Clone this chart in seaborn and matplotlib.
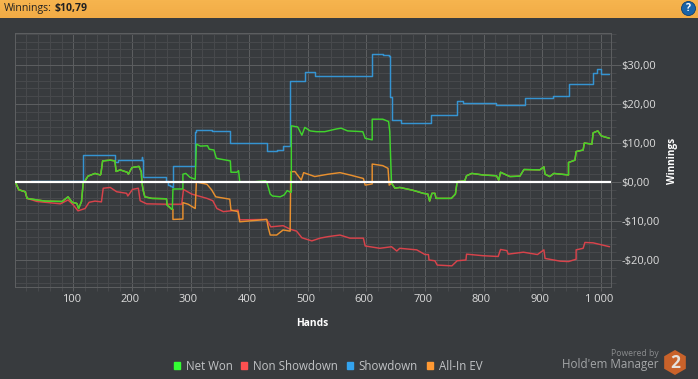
import numpy as np
import pandas as pd
import matplotlib.pyplot as plt
import seaborn as sns
from matplotlib.patches import Circle, Patch, RegularPolygon
from matplotlib.ticker import FuncFormatter, MultipleLocator
from matplotlib.transforms import ScaledTranslation

# Values: (hand, dollars)
net_hands = [1, 7, 18, 21, 38, 52, 81, 91, 98, 106, 109, 114, 117, 120, 125, 137, 146, 147, 150, 163, 171, 173, 180,
             192, 194, 200, 212, 216, 217, 219, 222, 234, 259, 260, 268, 269, 270, 287, 287, 292, 299, 308, 310, 317,
             329, 332, 340, 344, 350, 361, 368, 369, 379, 382, 384, 405, 428, 430, 433, 436, 440, 453, 460, 465, 470,
             472, 472, 483, 490, 495, 504, 515, 529, 549, 557, 568, 594, 598, 610, 610, 628, 638, 640, 641, 643, 649,
             657, 679, 697, 705, 708, 712, 717, 719, 745, 752, 755, 768, 771, 780, 799, 822, 826, 829, 839, 845, 862,
             869, 896, 903, 905, 913, 920, 945, 945, 956, 958, 970, 972, 985, 987, 995, 1001, 1015]
net_vals = [0, -2, -2.5, -4.2, -4.6, -4.9, -5, -3.8, -5.2, -5.5, -6.8, -5, 0, 0.3, 1.5, 2.2, 1.8, 2, 5.4, 5.6, 5.4, 2.7,
            3.1, 2.5, 2, 3.7, 4, 2.6, 0, -2, -3.8, -4.2, -4.3, -5.9, -7, -7, -1.8, -1.8, 2, 2.2, 1.2, 0.7, 9.7, 9.2,
            9.3, 8.4, 8.2, 6.1, 5.9, 5.6, 5.4, 2.5, 2.5, 2.9, 0, 0, 0.3, 0, -1.5, -3.1, -3.6, -3.8, -3.3, -2.2, -2.6,
            -2.6, 14.4, 14.1, 12, 14, 13.1, 12.9, 12.9, 13.6, 13.8, 13.1, 12.9, 11.2, 10.8, 16.1, 16.1, 15.5, 12.9, 8.2,
            -0.3, -1.6, -1.4, -2.1, -2.9, -3.1, -4.9, -2.9, -2.9, -4.2, -4.2, -3.1, 0.1, 0.3, 1.6, 2.2, 1.8, 1.6, 0.5,
            2.5, 1.8, 1.4, 1.5, 3.2, 3.1, 3.9, 2, 1.4, 2.2, 1.8, 5, 5.6, 7.8, 8.2, 10, 9.7, 12.6, 13.1, 11.8, 11.2]

nonsd_hands = [1, 7, 18, 21, 38, 52, 78, 91, 100, 108, 120, 127, 137, 148, 151, 163, 174, 191, 193, 201, 211, 214, 225,
               259, 285, 288, 302, 328, 338, 345, 356, 381, 384, 430, 437, 458, 470, 481, 490, 507, 521, 535, 555, 572,
               595, 598, 623, 643, 652, 657, 686, 700, 706, 707, 717, 721, 746, 755, 770, 771, 799, 825, 829, 840, 842,
               868, 892, 903, 905, 931, 945, 958, 958, 970, 973, 987, 1015]
nonsd_vals = [0, -2, -2.5, -4.2, -5, -5.2, -5.6, -4.6, -5.9, -7.4, -6.8, -5.2, -4.9, -5.1, -1.6, -1.4, -2.5, -2.9, -3.6,
              -1.9, -1.6, -4.8, -5.6, -5.7, -5.7, -1.9, -3.1, -4.2, -4.8, -6.8, -7.6, -7.2, -9.7, -9.6, -11.5, -11.2,
              -12.1, -12.6, -14.3, -15.1, -14.4, -14, -13.6, -14.4, -14.4, -16.4, -17, -16.6, -17.7, -17, -17.4, -18.6,
              -18.6, -20, -20.2, -21.3, -21.5, -20.2, -20, -18.5, -18.9, -19.1, -17.3, -17.6, -18.5, -18, -18.6, -17.4,
              -19.6, -20.3, -20.4, -19.8, -17.4, -17, -15.5, -15.6, -16.6]

# Showdown runs flat between jumps, so it is drawn as steps
sd_hands = [28, 116, 171, 176, 217, 218, 219, 258, 262, 265, 268, 270, 308, 310, 320, 337, 368, 430, 448, 458, 470, 495,
            512, 610, 628, 638, 640, 641, 643, 660, 711, 754, 765, 822, 862, 870, 919, 945, 973, 986, 994, 1001, 1014]
sd_vals = [0.3, 7, 5.2, 5.6, 6.3, 5.6, 1.4, 0.2, -0.8, -1.0, -1.2, 4.1, 12.9, 13.3, 13.3, 13, 9.9, 7.9, 8.2, 9.2, 26,
           28.2, 27.3, 32.7, 32.6, 32.3, 27.7, 21.8, 15.9, 15, 17.1, 20.7, 20.3, 19.7, 19.8, 21.5, 22, 25.2, 25, 28,
           28.9, 27.6, 27.6]

# All-In EV sits under Net Won except between these hands
ev_hands = [270, 270, 287, 287, 296, 308, 310, 328, 336, 343, 367, 369, 381, 384, 430, 433, 436, 447, 458, 470, 471, 478,
            489, 493, 512, 535, 555, 572, 595, 598, 610, 610, 628, 637, 639]
ev_vals = [-7, -9.6, -9.5, -5.3, -5.7, -6.8, 0, -0.6, -2, -3.8, -4.4, -7.2, -7.6, -10.2, -9.6, -11.9, -13.6, -13.6,
           -12.3, -12.6, 2.6, 2.7, 0.5, 2.4, 1.4, 2, 2.4, 1.8, 0.9, -0.8, -0.5, 4.6, 4.2, 3.5, -0.8]

x_ticks = [100, 200, 300, 400, 500, 600, 700, 800, 900, 1000]
y_ticks = [-20, -10, 0, 10, 20, 30]
legend_labels = ["Net Won", "Non Showdown", "Showdown", "All-In EV"]
legend_colors = ["#33ff33", "#ff5050", "#33a3ee", "#ff9933"]

BG = "#383b3e"
MAJOR = "#5c5e60"
MINOR = "#47494c"
W, H = 698, 379
PX = 0.72  # one pixel in points at dpi 100

sns.set_style("dark")
plt.rcParams["font.family"] = ["Open Sans", "DejaVu Sans"]

net = pd.DataFrame({"hand": net_hands, "val": net_vals})
nonsd = pd.DataFrame({"hand": nonsd_hands, "val": nonsd_vals})
sd = pd.DataFrame({"hand": sd_hands, "val": sd_vals})
ev = pd.concat([net[net.hand < 270], pd.DataFrame({"hand": ev_hands, "val": ev_vals}), net[net.hand >= 643]])

fig = plt.figure(figsize=(W / 100, H / 100), dpi=100, facecolor=BG)
ax = fig.add_axes([15.3 / W, 1 - 287.3 / H, (610.7 - 15.3) / W, (287.3 - 33) / H], facecolor=BG)

line_kw = dict(x="hand", y="val", estimator=None, sort=False, errorbar=None, ax=ax, legend=False, linewidth=1.05)
sns.lineplot(data=nonsd, color="#d8434b", zorder=3, **line_kw)
sns.lineplot(data=sd, color="#3594d2", drawstyle="steps-post", zorder=4, **line_kw)
sns.lineplot(data=ev, color="#e8902f", zorder=5, **line_kw)
sns.lineplot(data=net, color="#40d42c", zorder=6, **line_kw)
ax.axhline(0, color="white", lw=1.6, zorder=7)

ax.set_xlim(1, 1017)
ax.set_ylim(-27, 38.2)
ax.set_xticks(x_ticks)
ax.xaxis.set_minor_locator(MultipleLocator(20))
ax.set_yticks(y_ticks)
ax.yaxis.set_minor_locator(MultipleLocator(2))
ax.yaxis.tick_right()
ax.xaxis.set_major_formatter(FuncFormatter(lambda v, p: "1 000" if v == 1000 else f"{v:.0f}"))
ax.yaxis.set_major_formatter(FuncFormatter(lambda v, p: f"${v:.0f},00" if v >= 0 else f"-${-v:.0f},00"))
ax.grid(True, which="major", color=MAJOR, lw=PX)
ax.grid(True, which="minor", color=MINOR, lw=PX)
ax.set_axisbelow(True)
ax.tick_params(axis="x", which="both", bottom=True, color=MINOR, length=3, width=PX)
ax.tick_params(axis="x", which="major", colors="#dddddd", labelsize=8, pad=2)
ax.tick_params(axis="x", which="major", color=MAJOR)
ax.tick_params(axis="y", which="major", colors="#dddddd", labelsize=8, length=7, width=PX, pad=0.5, right=True)
ax.tick_params(axis="y", which="major", color=MAJOR)
ax.tick_params(axis="y", which="minor", right=True, left=False, color=MINOR, length=3.5, width=PX)
for s in ax.spines.values():
    s.set_color(MAJOR)
    s.set_linewidth(PX)

# x labels sit a little left of their grid lines in the original
for lab in ax.get_xticklabels():
    lab.set_transform(lab.get_transform() + ScaledTranslation(-2 / 100, 0, fig.dpi_scale_trans))

ax.set_xlabel("")
ax.set_ylabel("")
fig.text(312 / W, 1 - 324 / H, "Hands", color="white", fontsize=7.4, fontweight="bold", ha="center", va="center")
fig.text(673 / W, 1 - 161 / H, "Winnings", color="white", fontsize=7.2, fontweight="bold", rotation=90,
         ha="center", va="center")

# Header band
head = fig.add_axes([0, 1 - 18 / H, 1, 18 / H])
head.imshow(np.linspace(0, 1, 18).reshape(-1, 1), aspect="auto", cmap=sns.blend_palette(["#f6b44e", "#f2ac46"], as_cmap=True))
head.axis("off")

# Everything pixel-placed goes on an overlay in image coordinates
over = fig.add_axes([0, 0, 1, 1])
over.set_xlim(0, W)
over.set_ylim(H, 0)
over.axis("off")
over.text(4, 9, "Winnings:", color="#222222", fontsize=7.6, ha="left", va="center")
over.text(55, 9, "$10,79", color="#222222", fontsize=7.6, fontweight="bold", ha="left", va="center")
over.add_patch(Circle((688.5, 8.5), 7, fc="#1a64a8", ec="#0f3f70", lw=0.6))
over.text(688.5, 8.5, "?", color="white", fontsize=7.5, fontweight="bold", ha="center", va="center")
over.add_patch(RegularPolygon((675, 362.5), 6, radius=12.5, fc="#c9622a", ec="none"))
over.text(675, 362.5, "2", color="#e6e1dc", fontsize=12.5, fontweight="bold", ha="center", va="center")
over.text(659, 353, "Powered by", color="#8a8c8e", fontsize=6.2, ha="right", va="center")
over.text(659, 364.5, "Hold'em Manager", color="#a4a6a8", fontsize=8.4, ha="right", va="center")
over.plot([0, W], [378.5, 378.5], color="#77797b", lw=PX)

handles = [Patch(color=c, label=l) for c, l in zip(legend_colors, legend_labels)]
fig.legend(handles=handles, ncol=4, loc="center", bbox_to_anchor=(328 / W, 1 - 366 / H), frameon=False, fontsize=8.3,
           labelcolor="#c2c4c6", handlelength=0.55, handleheight=0.55, handletextpad=0.5, columnspacing=0.75)

plt.savefig("out.png", dpi=100, facecolor=BG)
